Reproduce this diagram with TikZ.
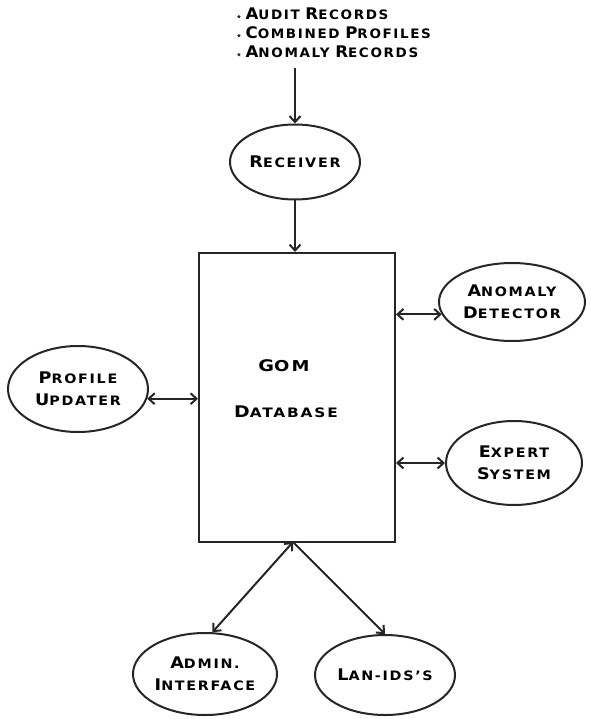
\documentclass[tikz,border=0pt]{standalone}
\usepackage{graphicx}
\usepackage{fontspec}
\setmainfont{DejaVu Sans}[LetterSpace=12]
\usetikzlibrary{arrows.meta,shapes.geometric}
% hand-lettered small caps: a larger initial followed by smaller capitals,
% stretched sideways by \hwx
\newcommand\hwx{1.1}
\newcommand\hw[2]{\scalebox{\hwx}[1]{{\fontsize{16}{16}\selectfont\bfseries#1}{\fontsize{13}{13}\selectfont\bfseries#2}}}
\newcommand\dotitem{\raisebox{1.5pt}{\tikz\fill[black!85] (0,0) circle (1.7pt);}\hspace{5pt}}
\tikzset{
  ink/.style={line width=2pt, draw=black!85},
  tip/.style={-{Straight Barb[length=6pt,width=11pt]}},
  both/.style={{Straight Barb[length=6pt,width=11pt]}-{Straight Barb[length=6pt,width=11pt]}},
  proc/.style={ink, ellipse, inner sep=0pt, align=center, font=\fontsize{13}{22}\selectfont},
}
\begin{document}
\begin{tikzpicture}[x=1pt,y=-1pt]
\useasboundingbox (0,0) rectangle (590,719);

% incoming data list
\node[anchor=north west, align=left, inner sep=0pt,
      font=\fontsize{13}{19}\selectfont\renewcommand\hwx{1.04}] (list) at (237,8)
  {\dotitem\hw{A}{UDIT} \hw{R}{ECORDS}\\
   \dotitem\hw{C}{OMBINED} \hw{P}{ROFILES}\\
   \dotitem\hw{A}{NOMALY} \hw{R}{ECORDS}};
\coordinate (src) at (295,68);

% nodes
\node[proc, minimum width=130pt, minimum height=75pt] (recv) at (295,162) {\hw{R}{ECEIVER}};
\node[ink, rectangle, minimum width=196pt, minimum height=289pt, inner sep=0pt] (db) at (297,397.5) {};
\node[font=\renewcommand\hwx{1.2}] (gom) at (284,366) {\hw{G}{\fontsize{15}{15}\selectfont\bfseries OM}};
\node[font=\renewcommand\hwx{1.18}] (dbase) at (286,412) {\hw{D}{ATABASE}};
\node[proc, minimum width=146pt, minimum height=78pt] (anom) at (512,302) {\hw{A}{NOMALY}\\\hw{D}{ETECTOR}};
\node[proc, minimum width=136pt, minimum height=84pt] (expert) at (514,463) {\hw{E}{XPERT}\\\hw{S}{YSTEM}};
\node[proc, minimum width=140pt, minimum height=86pt] (prof) at (78,389) {\hw{P}{ROFILE}\\\hw{U}{PDATER}};
\node[proc, minimum width=144pt, minimum height=82pt] (admin) at (205,674) {\hw{A}{DMIN.}\\\hw{I}{NTERFACE}};
\node[proc, minimum width=140pt, minimum height=80pt] (lan) at (385,675) {\hw{L}{AN-IDS'S}};
\coordinate (hub) at (293,542);

% connectors
\draw[ink, tip] (src) -- (recv.north);
\draw[ink, tip] (recv.south) -- (recv.south |- db.north);
\draw[ink, both] (db.east |- anom.190) -- (anom.190);
\draw[ink, both] (db.east |- expert.west) -- (expert.west);
\draw[ink, both] (prof.352) -- (db.west |- prof.352);
\draw[ink, both] (hub) -- (admin.80);
\draw[ink, tip] (hub) -- (lan.north);
\end{tikzpicture}
\end{document}
